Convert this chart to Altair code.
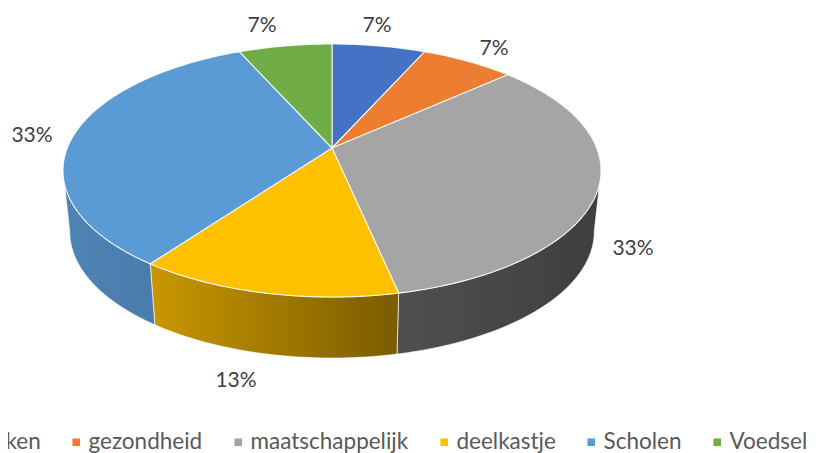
import math
import altair as alt

CATEGORIES = ["Bibliotheken", "gezondheid", "maatschappelijk", "deelkastje", "Scholen", "Voedsel"]
COUNTS = [1, 1, 5, 2, 5, 1]
COLORS = ["#4472C4", "#ED7D31", "#A5A5A5", "#FFC000", "#5B9BD5", "#70AD47"]
WALL_STOPS = {
    "maatschappelijk": ("#505050", "#3E3E3E"),
    "deelkastje": ("#C99700", "#7A5C00"),
    "Scholen": ("#4F84B6", "#4A7CAB"),
}
LABELS = ["7%", "7%", "33%", "13%", "33%", "7%"]

# perspective view of the disc
CX, CY, A, B, P = 324, 140, 264.7, 122.5, 0.178
DEPTH, BOTTOM_SCALE = 61, 0.975
LABEL_XY = [(369, 18), (486, 41), (625, 241), (228, 373), (24, 128), (254, 18)]


def top(deg):
    t = math.radians(deg)
    d = 1 + P * math.cos(t)
    return [CX + A * math.sin(t) / d, CY - B * math.cos(t) / d]


def bottom(deg):
    x, y = top(deg)
    return [CX + BOTTOM_SCALE * (x - CX), y + DEPTH]


def sweep(a, b):
    n = max(2, int(abs(b - a)))
    return [a + (b - a) * i / n for i in range(n + 1)]


total = sum(COUNTS)
edges = [0]
for c in COUNTS:
    edges.append(edges[-1] + 360 * c / total)

tangent = math.degrees(math.acos(-P))  # where the rim turns out of sight

PROJ = dict(type="identity", scale=1, translate=[0, 0])

walls = []
for i, cat in enumerate(CATEGORIES):
    if cat not in WALL_STOPS:
        continue
    a = max(edges[i], tangent if edges[i] < 180 else 0)
    b = min(edges[i + 1], 360 - tangent)
    angles = sweep(a, b)
    ring = [top(d) for d in angles] + [bottom(d) for d in reversed(angles)]
    ring.append(ring[0])
    c0, c1 = WALL_STOPS[cat]
    walls.append(
        alt.Chart(alt.Data(values=[{"type": "Feature", "properties": {"cat": cat},
                                    "geometry": {"type": "Polygon", "coordinates": [ring]}}]))
        .mark_geoshape(
            fill=alt.Gradient(gradient="linear", x1=0, x2=1, y1=0, y2=0,
                              stops=[alt.GradientStop(color=c0, offset=0),
                                     alt.GradientStop(color=c1, offset=1)]),
            stroke="#FFFFFF", strokeWidth=0.8, strokeOpacity=0.8,
        )
        .project(**PROJ)
    )

features = []
for i, cat in enumerate(CATEGORIES):
    ring = [[CX, CY]] + [top(d) for d in sweep(edges[i], edges[i + 1])] + [[CX, CY]]
    features.append({"type": "Feature", "properties": {"cat": cat},
                     "geometry": {"type": "Polygon", "coordinates": [ring]}})

faces = (
    alt.Chart(alt.Data(values=features))
    .mark_geoshape(stroke="#FFFFFF", strokeWidth=1.1, strokeOpacity=0.85)
    .encode(
        color=alt.Color(
            "properties.cat:N",
            scale=alt.Scale(domain=CATEGORIES, range=COLORS),
            legend=alt.Legend(
                title=None, orient="none", legendX=-114, legendY=423, direction="horizontal",
                columns=6, gridAlign="none", columnPadding=24, symbolType="square",
                symbolSize=58, symbolStrokeWidth=0, labelFont="Lato", labelFontSize=22.5,
                labelColor="#595959", labelOffset=1, labelLimit=300, padding=0,
                symbolOffset=0,
            ),
        )
    )
    .project(**PROJ)
)

texts = [
    alt.Chart(alt.Data(values=[{"t": t}]))
    .mark_text(font="Lato", fontSize=21, color="#404040")
    .encode(x=alt.value(xy[0]), y=alt.value(xy[1]), text="t:N")
    for t, xy in zip(LABELS, LABEL_XY)
]

chart = alt.layer(*walls, faces, *texts).properties(
    width=803, height=445, autosize="none", padding=0
).configure_view(stroke=None)

chart.save("out.html", embed_options={"renderer": "svg", "actions": False})
